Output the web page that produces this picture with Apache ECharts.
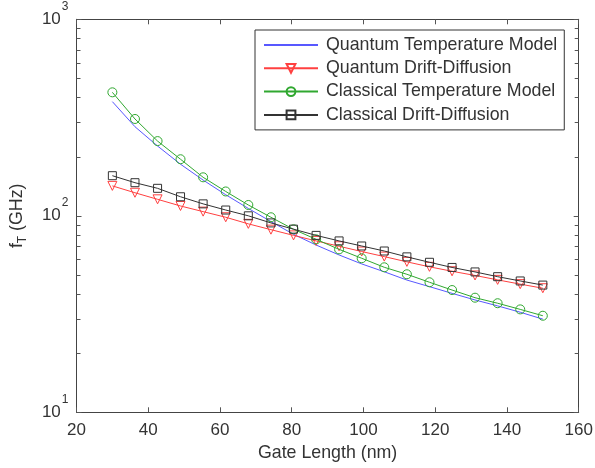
<!DOCTYPE html>
<html>
<head>
<meta charset="utf-8">
<script src="https://cdn.jsdelivr.net/npm/echarts@6/dist/echarts.min.js"></script>
<style>html,body{margin:0;padding:0;background:#fff}#c{width:595px;height:468px}</style>
</head>
<body>
<div id="c"></div>
<script>
const gateLength = [30, 36.3, 42.6, 49.0, 55.3, 61.6, 67.9, 74.2, 80.5, 86.8, 93.2, 99.5, 105.8, 112.1, 118.4, 124.7, 131.1, 137.4, 143.7, 150];
const quantumTemperature = [381, 284, 226.5, 183, 152, 128, 109, 93.5, 80.5, 71, 63.2, 56.9, 51.9, 47.1, 43.6, 40.3, 37.3, 34.8, 32.3, 29.8];
const quantumDriftDiffusion = [142, 131, 121.3, 112.2, 105, 98.3, 91, 85, 79.5, 74.5, 70, 65.8, 62, 58.3, 55, 52.2, 49.7, 47.2, 44.9, 42.8];
const classicalTemperature = [425, 311, 240, 194, 157, 133, 113.5, 98.3, 85.4, 75.9, 67.5, 60.8, 54.7, 50.4, 45.9, 41.9, 38.3, 35.9, 33.4, 31.0];
const classicalDriftDiffusion = [160, 147.4, 138, 125, 115, 107, 100, 92, 85.5, 79.5, 74.5, 70.2, 66.2, 61.8, 58, 54.6, 51.8, 49, 46.6, 44.4];
const seriesNames = ['Quantum Temperature Model', 'Quantum Drift-Diffusion', 'Classical Temperature Model', 'Classical Drift-Diffusion'];
const xTicks = [20, 40, 60, 80, 100, 120, 140, 160];
const yDecades = [10, 100, 1000];
const yMinorTicks = [20, 30, 40, 50, 60, 70, 80, 90, 200, 300, 400, 500, 600, 700, 800, 900];

const FONT = 'Liberation Sans, Arial, sans-serif';
const TXT = '#333';
const FRAME = '#444';
const TICK = '#555';
const colors = ['#5858ff', '#ff4040', '#30a830', '#333333'];

const pair = arr => gateLength.map((x, i) => [x, arr[i]]);

const chart = echarts.init(document.getElementById('c'), null, {renderer: 'canvas'});
const supMap = {10: '1', 100: '2', 1000: '3'};

const option = {
  backgroundColor: '#fff',
  animation: false,
  grid: {left: 76.5, right: 16.3, top: 19.3, bottom: 55.7, containLabel: false, outerBoundsMode: 'none'},
  legend: {
    data: [
      {name: seriesNames[0], itemStyle: {color: 'rgba(0,0,0,0)', borderWidth: 0, opacity: 0}},
      seriesNames[1], seriesNames[2], seriesNames[3]
    ],
    orient: 'vertical',
    left: 255, top: 30,
    padding: [6, 7, 6, 8],
    borderColor: '#333', borderWidth: 1,
    backgroundColor: '#fff',
    itemWidth: 54, itemHeight: 11, itemGap: 5.3,
    textStyle: {fontFamily: FONT, fontSize: 17.8, color: TXT, padding: [0, 0, 0, 3]}
  },
  xAxis: [
    {
      type: 'value', min: 20, max: 160, interval: 20, position: 'bottom',
      name: 'Gate Length (nm)', nameLocation: 'middle', nameGap: 32,
      nameTextStyle: {fontFamily: FONT, fontSize: 17.8, color: TXT},
      axisLine: {show: true, onZero: false, lineStyle: {color: FRAME, width: 1}},
      axisTick: {show: true, inside: true, length: 5, lineStyle: {color: TICK, width: 1}},
      axisLabel: {fontFamily: FONT, fontSize: 17, color: TXT, margin: 10,
        formatter: v => xTicks.includes(v) ? String(v) : ''},
      splitLine: {show: false}
    },
    {
      type: 'value', min: 20, max: 160, interval: 20, position: 'top',
      axisLine: {show: true, onZero: false, lineStyle: {color: FRAME, width: 1}},
      axisTick: {show: true, inside: true, length: 5, lineStyle: {color: TICK, width: 1}},
      axisLabel: {show: false}, splitLine: {show: false}
    }
  ],
  yAxis: [
    {
      type: 'log', logBase: 10, min: 10, max: 1000, position: 'left',
      name: '{a|f}{b|T}{a| (GHz)}', nameLocation: 'middle', nameGap: 48, nameRotate: 90,
      nameTextStyle: {fontFamily: FONT, color: TXT,
        rich: {a: {fontFamily: FONT, fontSize: 17.8, color: TXT}, b: {fontFamily: FONT, fontSize: 12, color: TXT, padding: [10, 0, 0, 0]}}},
      axisLine: {show: true, onZero: false, lineStyle: {color: FRAME, width: 1}},
      axisTick: {show: true, inside: true, length: 5, lineStyle: {color: TICK, width: 1}},
      axisLabel: {margin: 8,
        formatter: v => supMap[Math.round(v)] ? '{b|10}{s|' + supMap[Math.round(v)] + '}' : '',
        rich: {b: {fontFamily: FONT, fontSize: 17, color: TXT}, s: {fontFamily: FONT, fontSize: 12, color: TXT, padding: [0, 0, 26, 1]}}},
      splitLine: {show: false}
    },
    {
      type: 'log', logBase: 10, min: 10, max: 1000, position: 'right',
      axisLine: {show: true, onZero: false, lineStyle: {color: FRAME, width: 1}},
      axisTick: {show: true, inside: true, length: 5, lineStyle: {color: TICK, width: 1}},
      axisLabel: {show: false}, splitLine: {show: false}
    }
  ],
  series: [
    {
      name: seriesNames[0], type: 'line', data: pair(quantumTemperature), symbol: 'none',
      lineStyle: {color: colors[0], width: 1}, itemStyle: {color: colors[0]}, z: 2
    },
    {
      name: seriesNames[1], type: 'line', data: pair(quantumDriftDiffusion),
      symbol: 'triangle', symbolRotate: 180, symbolSize: 9, showAllSymbol: true,
      lineStyle: {color: colors[1], width: 1},
      itemStyle: {color: 'rgba(0,0,0,0)', borderColor: colors[1], borderWidth: 1}, z: 3
    },
    {
      name: seriesNames[2], type: 'line', data: pair(classicalTemperature),
      symbol: 'circle', symbolSize: 9, showAllSymbol: true,
      lineStyle: {color: colors[2], width: 1},
      itemStyle: {color: 'rgba(0,0,0,0)', borderColor: colors[2], borderWidth: 1}, z: 4
    },
    {
      name: seriesNames[3], type: 'line', data: pair(classicalDriftDiffusion),
      symbol: 'rect', symbolSize: 8, showAllSymbol: true,
      lineStyle: {color: colors[3], width: 1},
      itemStyle: {color: 'rgba(0,0,0,0)', borderColor: colors[3], borderWidth: 1}, z: 5
    }
  ]
};
chart.setOption(option);

// Minor log ticks on the left and right frame edges, placed through the axis scales
const xl = chart.convertToPixel({xAxisIndex: 0}, 20);
const xr = chart.convertToPixel({xAxisIndex: 0}, 160);
const minorGraphics = [];
yMinorTicks.forEach(v => {
  const y = Math.round(chart.convertToPixel({yAxisIndex: 0}, v)) + 0.5;
  minorGraphics.push({type: 'rect', z: 50, silent: true, shape: {x: xl, y: y - 0.5, width: 4, height: 1}, style: {fill: TICK}});
  minorGraphics.push({type: 'rect', z: 50, silent: true, shape: {x: xr - 4, y: y - 0.5, width: 4, height: 1}, style: {fill: TICK}});
});
chart.setOption({graphic: {elements: minorGraphics}});
</script>
</body>
</html>
